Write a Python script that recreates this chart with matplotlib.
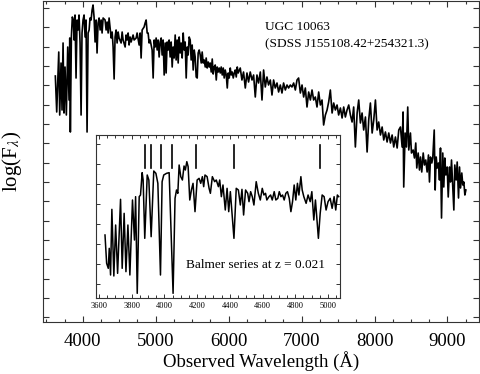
import matplotlib
matplotlib.use('Agg')
import numpy as np
import matplotlib.pyplot as plt
from matplotlib.ticker import MultipleLocator, NullFormatter, FixedLocator

plt.rcParams['font.family'] = ['Liberation Serif', 'DejaVu Serif']
plt.rcParams['mathtext.fontset'] = 'stix'

# ---- main spectrum (observed wavelength in Angstrom, log flux in arbitrary units) ----
main_wave = [
    3624, 3643, 3671, 3684, 3702, 3716, 3730, 3743, 3757, 3775,
    3794, 3812, 3822, 3830, 3844, 3857, 3871, 3881, 3894, 3908,
    3922, 3936, 3949, 3963, 3977, 3990, 4004, 4018, 4032, 4045,
    4059, 4073, 4087, 4100, 4114, 4128, 4141, 4155, 4169, 4183,
    4196, 4210, 4224, 4238, 4252, 4265, 4279, 4306, 4320, 4334,
    4348, 4361, 4375, 4389, 4403, 4416, 4430, 4443, 4457, 4471,
    4485, 4498, 4526, 4540, 4553, 4581, 4594, 4608, 4622, 4635,
    4649, 4663, 4690, 4704, 4732, 4745, 4773, 4787, 4800, 4814,
    4841, 4855, 4869, 4883, 4896, 4910, 4924, 4937, 4951, 4965,
    4979, 4992, 5006, 5020, 5033, 5047, 5061, 5075, 5088, 5102,
    5116, 5130, 5143, 5157, 5171, 5184, 5198, 5212, 5226, 5239,
    5253, 5267, 5280, 5294, 5308, 5322, 5336, 5349, 5363, 5377,
    5390, 5404, 5418, 5432, 5445, 5459, 5473, 5486, 5500, 5514,
    5528, 5541, 5555, 5569, 5582, 5596, 5610, 5624, 5637, 5651,
    5665, 5679, 5692, 5706, 5720, 5734, 5747, 5761, 5775, 5788,
    5802, 5816, 5830, 5843, 5857, 5871, 5885, 5898, 5912, 5926,
    5939, 5953, 5967, 5981, 5994, 6008, 6022, 6035, 6049, 6063,
    6077, 6090, 6104, 6118, 6131, 6159, 6182, 6204, 6228, 6251,
    6273, 6296, 6320, 6342, 6365, 6388, 6410, 6434, 6457, 6479,
    6502, 6525, 6547, 6571, 6594, 6616, 6639, 6663, 6685, 6708,
    6731, 6753, 6777, 6800, 6822, 6845, 6868, 6891, 6914, 6937,
    6959, 6983, 7006, 7028, 7051, 7074, 7097, 7120, 7143, 7165,
    7188, 7211, 7234, 7257, 7280, 7302, 7326, 7349, 7371, 7394,
    7418, 7440, 7463, 7486, 7508, 7532, 7555, 7577, 7600, 7623,
    7646, 7669, 7692, 7714, 7737, 7761, 7783, 7806, 7829, 7851,
    7875, 7898, 7920, 7943, 7967, 7989, 8012, 8035, 8057, 8081,
    8104, 8126, 8149, 8172, 8195, 8218, 8241, 8263, 8286, 8310,
    8332, 8355, 8378, 8391, 8400, 8419, 8437, 8455, 8469, 8492,
    8506, 8529, 8547, 8565, 8579, 8598, 8616, 8630, 8647, 8667,
    8684, 8702, 8721, 8739, 8753, 8767, 8785, 8798, 8818, 8831,
    8845, 8859, 8876, 8890, 8904, 8918, 8935, 8949, 8963, 8977,
    8996, 9010, 9028, 9041, 9055, 9073, 9087, 9100, 9119, 9133,
    9151, 9165, 9179, 9196, 9210, 9224, 9238, 9252,
]
main_flux = [
    24.6, 21.0, 27.0, 20.7, 25.9, 21.2, 27.9, 20.9, 25.5, 20.7,
    27.5, 22.2, 28.4, 19.0, 28.5, 30.5, 30.2, 28.2, 30.7, 24.4,
    30.2, 29.2, 30.7, 27.9, 20.7, 28.9, 30.2, 30.7, 28.5, 30.2,
    19.0, 28.9, 29.2, 30.4, 30.2, 31.2, 31.7, 30.5, 28.0, 30.2,
    26.9, 29.9, 30.4, 29.2, 30.2, 28.9, 30.4, 30.2, 29.2, 30.0,
    28.9, 30.4, 29.4, 28.4, 29.0, 27.5, 24.3, 28.5, 29.2, 27.9,
    29.0, 28.4, 27.9, 29.0, 28.2, 27.5, 28.7, 28.2, 28.9, 27.7,
    28.5, 28.0, 28.7, 28.2, 28.4, 28.9, 27.7, 28.9, 26.4, 29.2,
    29.5, 29.9, 30.2, 28.9, 28.9, 27.9, 28.2, 27.7, 27.2, 24.4,
    28.2, 27.5, 28.4, 27.2, 28.2, 26.5, 28.0, 28.4, 26.7, 28.2,
    24.7, 27.9, 24.9, 28.0, 27.2, 28.2, 26.5, 28.0, 25.5, 27.5,
    26.4, 28.7, 26.2, 28.2, 25.9, 28.5, 26.9, 27.9, 26.4, 28.9,
    27.2, 28.0, 24.4, 27.5, 26.7, 28.5, 28.2, 26.2, 27.7, 25.2,
    27.2, 26.5, 24.5, 24.4, 26.9, 27.2, 26.7, 25.9, 27.0, 25.9,
    26.2, 25.5, 26.4, 25.4, 26.0, 25.5, 25.9, 25.0, 26.3, 24.8,
    25.5, 25.7, 24.2, 25.5, 25.0, 25.4, 24.9, 25.5, 24.7, 25.4,
    24.4, 25.2, 24.7, 23.4, 24.9, 24.4, 25.4, 24.7, 25.0, 24.4,
    24.9, 25.2, 24.5, 25.5, 24.9, 25.4, 24.2, 25.0, 23.4, 24.9,
    24.0, 25.0, 24.2, 24.7, 22.5, 24.7, 23.9, 25.0, 22.2, 25.2,
    23.5, 24.5, 23.7, 24.2, 22.7, 24.2, 23.4, 23.9, 23.0, 23.7,
    22.9, 23.9, 23.2, 23.7, 23.4, 23.7, 23.5, 23.9, 23.2, 24.2,
    24.4, 22.9, 23.7, 22.5, 23.4, 21.5, 23.0, 22.2, 23.2, 22.2,
    22.5, 21.5, 23.0, 21.7, 22.2, 19.7, 20.7, 21.2, 22.0, 23.2,
    20.9, 21.9, 21.2, 21.7, 20.7, 21.4, 20.4, 21.5, 20.5, 21.2,
    21.7, 20.7, 20.0, 21.5, 17.5, 20.9, 22.2, 19.9, 20.9, 19.2,
    20.5, 17.0, 20.2, 21.9, 18.9, 20.2, 22.2, 19.2, 20.0, 18.7,
    19.5, 18.2, 19.0, 18.0, 18.9, 17.9, 18.7, 17.5, 18.5, 17.4,
    19.2, 19.5, 17.5, 21.0, 13.5, 18.9, 17.5, 21.5, 17.2, 18.9,
    16.9, 17.2, 16.4, 17.9, 15.4, 16.9, 15.2, 16.5, 15.0, 16.9,
    15.7, 16.2, 15.0, 16.7, 14.0, 16.5, 15.9, 16.4, 19.2, 13.2,
    16.5, 15.4, 15.9, 14.2, 17.4, 10.4, 16.9, 13.5, 16.4, 14.7,
    15.5, 12.5, 15.5, 14.0, 16.2, 13.4, 11.2, 15.7, 14.2, 16.0,
    12.4, 15.5, 13.4, 14.9, 13.7, 14.0, 12.7, 13.2,
]

# ---- inset: zoom on the blue part with Balmer lines ----
inset_wave = [
    3637, 3647, 3657, 3663, 3671, 3679, 3691, 3702, 3714, 3732,
    3742, 3754, 3765, 3777, 3789, 3805, 3817, 3824, 3834, 3846,
    3854, 3864, 3870, 3880, 3895, 3905, 3919, 3935, 3948, 3960,
    3976, 3986, 3996, 4013, 4029, 4053, 4065, 4074, 4082, 4090,
    4100, 4110, 4120, 4128, 4137, 4145, 4155, 4165, 4175, 4187,
    4200, 4212, 4222, 4232, 4240, 4248, 4261, 4273, 4281, 4293,
    4307, 4317, 4330, 4338, 4348, 4358, 4372, 4383, 4393, 4403,
    4415, 4425, 4431, 4439, 4452, 4464, 4474, 4484, 4496, 4509,
    4517, 4527, 4537, 4547, 4561, 4574, 4586, 4598, 4608, 4618,
    4626, 4639, 4649, 4659, 4671, 4681, 4693, 4702, 4712, 4722,
    4732, 4742, 4752, 4763, 4773, 4783, 4793, 4803, 4813, 4822,
    4834, 4842, 4852, 4866, 4878, 4891, 4901, 4913, 4923, 4941,
    4952, 4964, 4976, 4988, 5000, 5013, 5025, 5037, 5047, 5057,
    5065,
]
inset_flux = [
    18.9, 10.4, 8.9, 14.9, 6.9, 26.6, 6.6, 21.9, 7.4, 29.6,
    8.9, 25.4, 7.9, 21.9, 6.9, 29.4, 17.4, 30.4, 1.4, 30.4,
    30.9, 37.6, 35.4, 17.9, 36.9, 35.4, 18.4, 38.1, 37.4, 34.4,
    6.9, 34.9, 36.9, 37.4, 37.6, 1.4, 29.9, 32.4, 31.4, 39.9,
    36.4, 35.4, 39.6, 38.4, 40.9, 39.4, 29.4, 32.4, 34.4, 25.9,
    35.4, 35.9, 34.4, 36.4, 33.4, 36.9, 36.4, 32.9, 31.4, 36.4,
    34.9, 35.4, 33.4, 35.4, 30.4, 33.9, 26.4, 32.9, 25.9, 31.9,
    24.4, 17.9, 24.4, 32.9, 32.4, 27.9, 32.6, 24.9, 32.4, 31.4,
    28.9, 31.9, 30.4, 27.9, 34.9, 31.4, 29.4, 32.9, 30.9, 31.4,
    29.4, 30.4, 30.9, 29.4, 31.9, 29.4, 29.9, 31.9, 30.4, 30.9,
    29.4, 31.4, 31.9, 29.9, 25.9, 28.9, 33.9, 29.4, 34.4, 30.9,
    36.4, 32.4, 30.4, 28.4, 30.9, 28.9, 31.9, 23.4, 29.4, 17.9,
    25.4, 30.9, 30.4, 26.4, 28.9, 29.9, 26.9, 30.4, 26.4, 30.9,
    30.4,
]
balmer_marks = [3880, 3917, 3978, 4049, 4192, 4425, 4948]
main_ticks = [4000, 5000, 6000, 7000, 8000, 9000]
inset_ticks = [3600, 3800, 4000, 4200, 4400, 4600, 4800, 5000]

W, H = 480, 374
fig = plt.figure(figsize=(W / 100, H / 100), dpi=100)

# main axes
ax = fig.add_axes([43 / W, 1 - 322 / H, 435.5 / W, 321 / H])
ax.plot(main_wave, main_flux, color='black', lw=1.2)
ax.set_xlim(3455, 9425)
ax.set_ylim(0, 32.1)
ax.xaxis.set_major_locator(FixedLocator(main_ticks))
ax.xaxis.set_minor_locator(MultipleLocator(250))
ax.yaxis.set_major_locator(FixedLocator(np.arange(0.47, 32.0, 1.933)))
ax.yaxis.set_major_formatter(NullFormatter())
ax.tick_params(axis='both', which='both', direction='in', top=True, right=True,
               color='#333333', width=0.8)
ax.tick_params(axis='x', which='major', length=4.5, labelsize=13.5, pad=8)
ax.tick_params(axis='x', which='minor', length=2.5)
ax.tick_params(axis='y', which='major', length=4)
for s in ax.spines.values():
    s.set_linewidth(0.8)
    s.set_color('#333333')
ax.set_xlabel('Observed Wavelength (Å)', fontsize=13.5, labelpad=1)
ax.set_ylabel(r'log(F$_\lambda$)', fontsize=15, labelpad=10)

fig.text(265 / W, 1 - 27 / H, 'UGC 10063', fontsize=9.6, va='center', ha='left')
fig.text(265 / W, 1 - 44 / H, '(SDSS J155108.42+254321.3)', fontsize=9.6,
         va='center', ha='left')

# inset axes
ia = fig.add_axes([96 / W, 1 - 298 / H, 243.5 / W, 163 / H])
ia.set_facecolor('white')
ia.plot(inset_wave, inset_flux, color='black', lw=1.1)
for b in balmer_marks:
    ia.plot([b, b], [38.9, 45.9], color='black', lw=1.2)
ia.set_xlim(3582, 5070)
ia.set_ylim(0, 48.9)
ia.xaxis.set_major_locator(FixedLocator(inset_ticks))
ia.xaxis.set_minor_locator(MultipleLocator(50))
ia.yaxis.set_major_locator(FixedLocator(np.arange(4.2, 48.0, 6.0)))
ia.yaxis.set_major_formatter(NullFormatter())
ia.tick_params(axis='both', which='both', direction='in', top=True, right=True,
               color='#333333', width=0.7)
ia.tick_params(axis='x', which='major', length=3, labelsize=6, pad=3)
ia.tick_params(axis='x', which='minor', length=2)
ia.tick_params(axis='y', which='major', length=3)
for s in ia.spines.values():
    s.set_linewidth(0.8)
    s.set_color('#333333')
ia.text(4135, 9.9, 'Balmer series at z = 0.021', fontsize=9.5, va='center', ha='left')

fig.savefig('out.png', dpi=100)
